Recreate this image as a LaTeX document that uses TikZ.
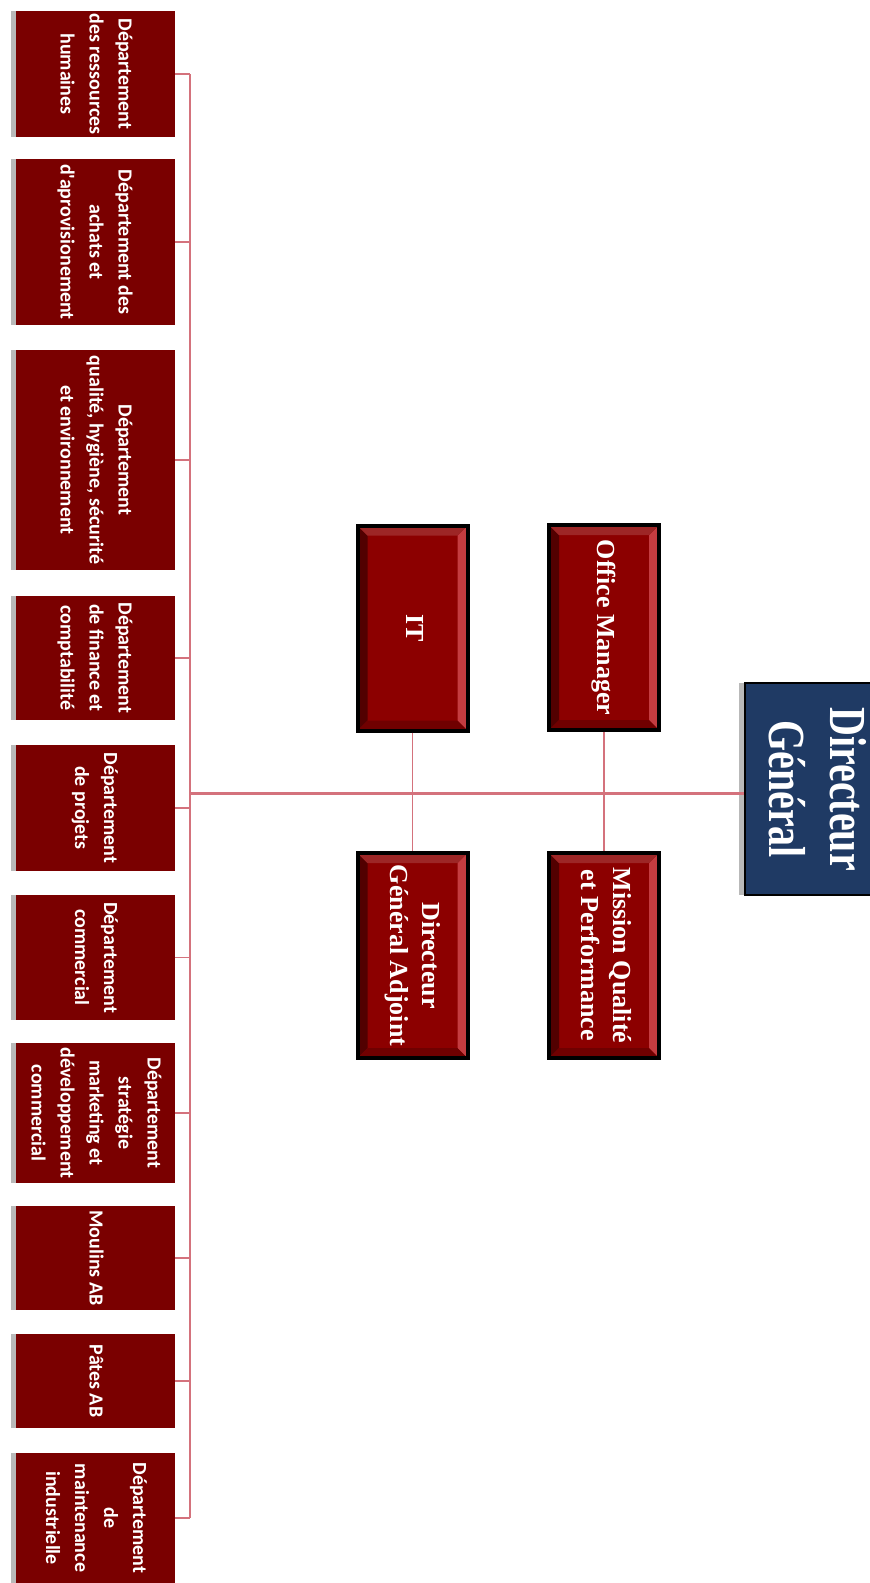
\documentclass[tikz,border=0pt]{standalone}
\usepackage{fontspec}
\usepackage{graphicx}
\setmainfont{Liberation Serif}
\newfontfamily\deptfont{Carlito}
\usetikzlibrary{shadows}

\definecolor{deptred}{HTML}{7A0000}
\definecolor{boxred}{HTML}{8C0000}
\definecolor{bevlight}{HTML}{C43C40}
\definecolor{bevdark}{HTML}{520000}
\definecolor{dgblue}{HTML}{1F3A64}
\definecolor{linkred}{HTML}{D4727C}

\newcommand{\vlab}[1]{\rotatebox{-90}{\begin{tabular}{@{}c@{}}#1\end{tabular}}}

\tikzset{
  deptbox/.style={rectangle, fill=deptred, text=white, minimum width=159pt, inner sep=0pt,
    font=\deptfont\bfseries\fontsize{20}{29}\selectfont,
    drop shadow={shadow xshift=-5pt, shadow yshift=0pt, fill=black!55, opacity=.5}},
  staffbox/.style={rectangle, fill=boxred, draw=black, line width=4pt, text=white,
    minimum width=110pt, minimum height=205pt, inner sep=0pt,
    font=\bfseries\fontsize{26}{32}\selectfont,
    path picture={
      \fill[bevlight] (path picture bounding box.north east) -- ++(-10pt,-10pt)
        -- ([xshift=-10pt,yshift=10pt]path picture bounding box.south east)
        -- (path picture bounding box.south east) -- cycle;
      \fill[bevdark] (path picture bounding box.north west) -- ++(10pt,-10pt)
        -- ([xshift=10pt,yshift=10pt]path picture bounding box.south west)
        -- (path picture bounding box.south west) -- cycle;
      \fill[boxred!80!black] (path picture bounding box.south west) -- ++(10pt,10pt)
        -- ([xshift=-10pt,yshift=10pt]path picture bounding box.south east)
        -- (path picture bounding box.south east) -- cycle;
      \fill[boxred!85!white] (path picture bounding box.north west) -- ++(10pt,-10pt)
        -- ([xshift=-10pt,yshift=-10pt]path picture bounding box.north east)
        -- (path picture bounding box.north east) -- cycle;
    }},
  headbox/.style={rectangle, fill=dgblue, draw=black, line width=1.2pt, text=white,
    minimum width=134pt, minimum height=212pt, inner sep=0pt,
    font=\bfseries\fontsize{40}{47}\selectfont,
    drop shadow={shadow xshift=-6pt, shadow yshift=0pt, fill=black!55, opacity=.5}},
  link/.style={draw=linkred, line width=1.4pt},
  mainlink/.style={draw=linkred, line width=3pt},
}

\begin{document}
\begin{tikzpicture}[x=1pt,y=-1pt]
  \useasboundingbox (0,0) rectangle (870,1583);
  \node[headbox] at (812,789) (dg) {\rotatebox{-90}{\scalebox{1}[1.3]{\begin{tabular}{@{}c@{}}Directeur\\Général\end{tabular}}}};
  \node[staffbox] at (604,627.5) (om) {\vlab{Office Manager}};
  \node[staffbox] at (604,955.5) (mq) {\vlab{Mission Qualité\\et Performance}};
  \node[staffbox] at (412.5,628) (it) {\vlab{IT}};
  \node[staffbox] at (412.5,955.5) (dga) {\vlab{Directeur\\Général Adjoint}};
  \node[deptbox, minimum height=126pt] at (95.5,74) (rh) {\vlab{Département\\des ressources\\humaines}};
  \node[deptbox, minimum height=166pt] at (95.5,242) (achat) {\vlab{Département des\\achats et\\d'aprovisionement}};
  \node[deptbox, minimum height=220pt] at (95.5,460) (qhse) {\vlab{Département\\qualité, hygiène, sécurité\\et environnement}};
  \node[deptbox, minimum height=124pt] at (95.5,658) (fin) {\vlab{Département\\de finance et\\comptabilité}};
  \node[deptbox, minimum height=126pt] at (95.5,808) (proj) {\vlab{Département\\de projets}};
  \node[deptbox, minimum height=125pt] at (95.5,957.5) (com) {\vlab{Département\\commercial}};
  \node[deptbox, minimum height=140pt] at (95.5,1113) (mkt) {\vlab{Département\\stratégie\\marketing et\\développement\\commercial}};
  \node[deptbox, minimum height=104pt] at (95.5,1258) (moul) {\vlab{Moulins AB}};
  \node[deptbox, minimum height=94pt] at (95.5,1381) (pates) {\vlab{Pâtes AB}};
  \node[deptbox, minimum height=130pt] at (95.5,1518) (maint) {\vlab{Département\\de\\maintenance\\industrielle}};
  \coordinate (bus) at (190,793);
  \draw[mainlink] (bus) -- (bus -| dg.west);
  \draw[link] (om.south) -- (mq.north);
  \draw[link] (it.south) -- (dga.north);
  \draw[link] (rh.east -| bus) -- (maint.east -| bus);
  \draw[link] (rh.east) -- (rh.east -| bus);
  \draw[link] (achat.east) -- (achat.east -| bus);
  \draw[link] (qhse.east) -- (qhse.east -| bus);
  \draw[link] (fin.east) -- (fin.east -| bus);
  \draw[link] (proj.east) -- (proj.east -| bus);
  \draw[link] (com.east) -- (com.east -| bus);
  \draw[link] (mkt.east) -- (mkt.east -| bus);
  \draw[link] (moul.east) -- (moul.east -| bus);
  \draw[link] (pates.east) -- (pates.east -| bus);
  \draw[link] (maint.east) -- (maint.east -| bus);
\end{tikzpicture}
\end{document}
